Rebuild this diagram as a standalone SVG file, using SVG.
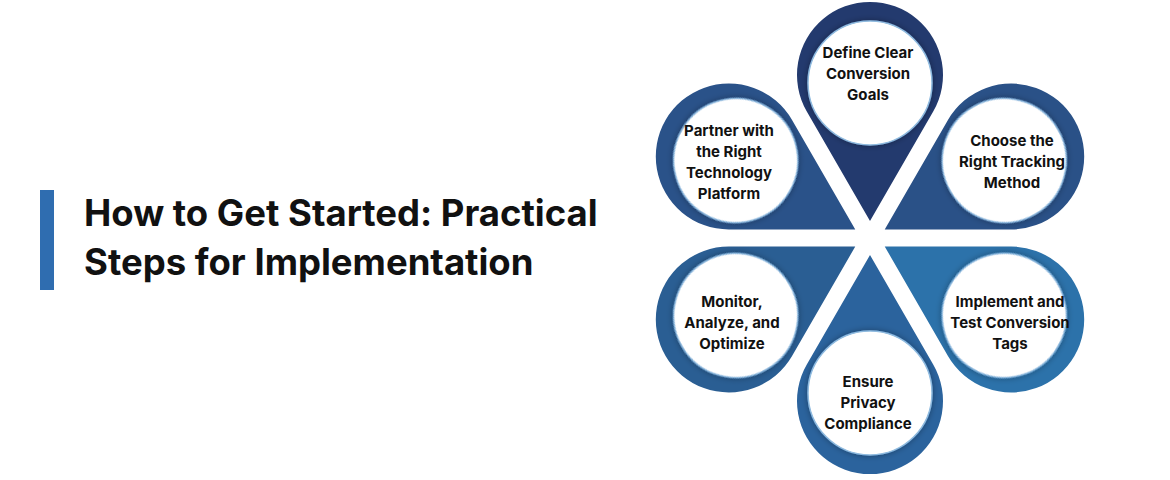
<svg xmlns="http://www.w3.org/2000/svg" width="1170" height="480" viewBox="0 0 1170 480">
<style>
.t{font-family:Inter,"Liberation Sans",sans-serif;font-weight:700;font-size:15px;fill:#111;text-anchor:middle}
.h{font-family:Inter,"Liberation Sans",sans-serif;font-weight:700;font-size:36.5px;fill:#111}
.in{fill:#fff;stroke:#8fbbe0;stroke-width:1.5;filter:url(#sh)}
</style>
<defs>
<filter id="sh" x="-20%" y="-20%" width="140%" height="140%"><feDropShadow dx="0" dy="0" stdDeviation="3" flood-color="#000" flood-opacity="0.35"/></filter>
<path id="p" d="M0,-17 L63.2,-126.5 A73,73 0 1 0 -63.2,-126.5 Z"/>
</defs>
<rect width="1170" height="480" fill="#fff"/>
<rect x="40" y="190" width="14" height="100" fill="#2f6db0"/>
<text class="h" x="84" y="226">How to Get Started: Practical</text>
<text class="h" x="84" y="275">Steps for Implementation</text>
<g transform="translate(870,238)">
<g id="n1"><use href="#p" fill="#233a6e"/><circle class="in" cx="0" cy="-155" r="62"/></g>
<g id="n2" transform="rotate(60)"><use href="#p" fill="#2a5187"/><circle class="in" cx="0" cy="-155" r="62"/></g>
<g id="n3" transform="rotate(120)"><use href="#p" fill="#2c72aa"/><circle class="in" cx="0" cy="-155" r="62"/></g>
<g id="n4" transform="rotate(180)"><use href="#p" fill="#2b639d"/><circle class="in" cx="0" cy="-155" r="62"/></g>
<g id="n5" transform="rotate(240)"><use href="#p" fill="#2a5e93"/><circle class="in" cx="0" cy="-155" r="62"/></g>
<g id="n6" transform="rotate(300)"><use href="#p" fill="#2a5289"/><circle class="in" cx="0" cy="-155" r="62"/></g>
</g>
<g id="labels">
<text class="t" x="868" y="58">Define Clear</text><text class="t" x="868" y="79">Conversion</text><text class="t" x="868" y="100">Goals</text>
<text class="t" x="1012" y="146">Choose the</text><text class="t" x="1012" y="167">Right Tracking</text><text class="t" x="1012" y="188">Method</text>
<text class="t" x="1010" y="307">Implement and</text><text class="t" x="1010" y="328">Test Conversion</text><text class="t" x="1010" y="349">Tags</text>
<text class="t" x="868" y="387">Ensure</text><text class="t" x="868" y="408">Privacy</text><text class="t" x="868" y="429">Compliance</text>
<text class="t" x="732" y="307">Monitor,</text><text class="t" x="732" y="328">Analyze, and</text><text class="t" x="732" y="349">Optimize</text>
<text class="t" x="729" y="136">Partner with</text><text class="t" x="729" y="157">the Right</text><text class="t" x="729" y="178">Technology</text><text class="t" x="729" y="199">Platform</text>
</g>
<g id="connectors"/>
</svg>
